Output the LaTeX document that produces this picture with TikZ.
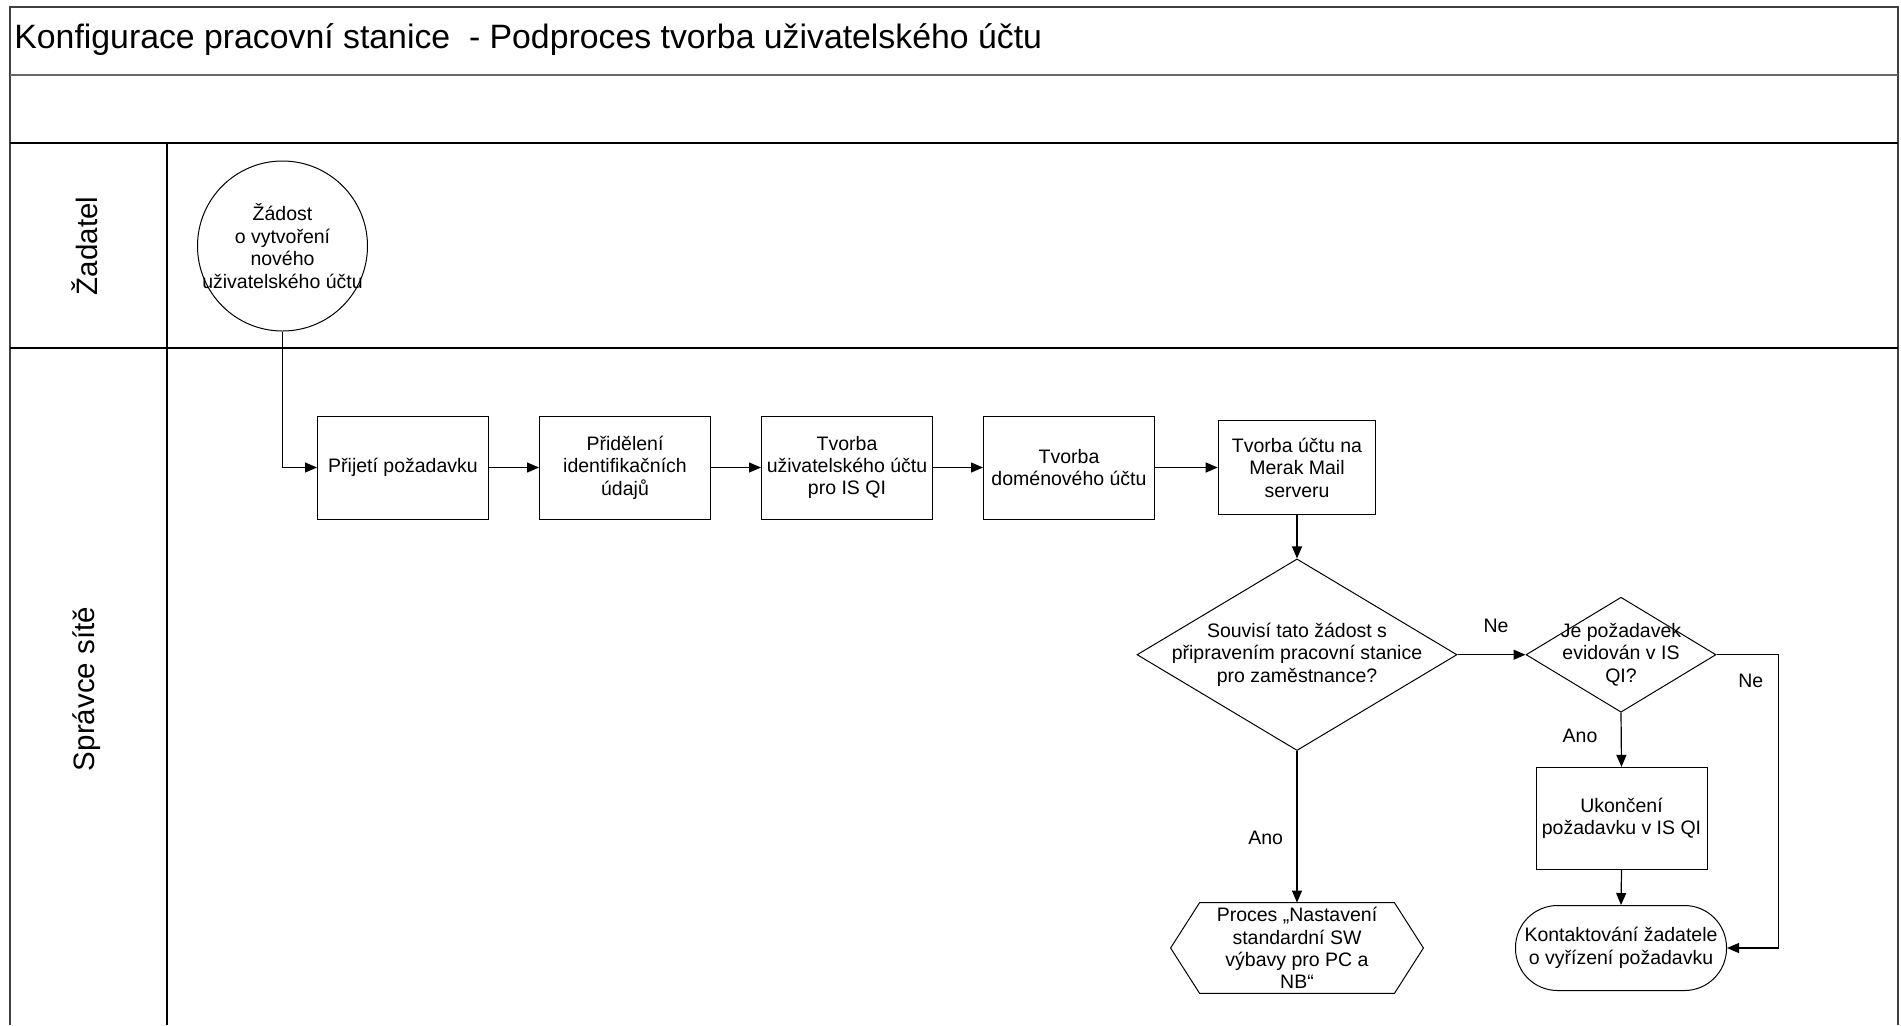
\documentclass[tikz,border=0pt]{standalone}
\usepackage{fontspec}
\setmainfont{Liberation Sans}
\usetikzlibrary{shapes.geometric,arrows.meta,calc}
\begin{document}
\begin{tikzpicture}[x=0.5pt,y=-0.5pt,
  frame/.style={draw=black!75,line width=1pt},
  lane/.style={draw=black,line width=0.75pt},
  txt/.style={font=\fontsize{9.75}{11.2}\selectfont,align=center,inner sep=0pt},
  boxnode/.style={txt,draw,line width=0.5pt,minimum width=85.5pt,minimum height=51.5pt},
  decnode/.style={diamond,draw,line width=0.5pt,inner sep=0pt},
  arr/.style={line width=0.6pt,-{Triangle[length=6pt,width=5pt]}},
  lanelabel/.style={font=\fontsize{14.75}{17}\selectfont,rotate=90,inner sep=0pt},
  flowlabel/.style={font=\fontsize{9.75}{11.2}\selectfont,inner sep=0pt}]
\useasboundingbox (0,0) rectangle (1901,1025);

% pool frame and lanes
\draw[frame] (10,1025) -- (10,7) -- (1898,7) -- (1898,1025);
\draw[draw=black!60,line width=0.9pt] (10,75) -- (1898,75);
\draw[lane] (10,143) -- (1898,143);
\draw[lane] (10,348) -- (1898,348);
\draw[lane] (167,143) -- (167,1025);

\node[font=\fontsize{16.9}{20}\selectfont,anchor=west,inner sep=0pt] (title) at (14,40)
  {Konfigurace pracovní stanice \ - Podproces tvorba uživatelského účtu};
\node[lanelabel] (l1) at (85,246) {Žadatel};
\node[lanelabel] (l2) at (87,689) {Správce sítě};

% activities
\node[circle,draw,line width=0.5pt,minimum size=85pt,inner sep=0pt] (start) at (282.5,246) {};
\node[txt] (startt) at (start) {Žádost\\o vytvoření\\nového\\uživatelského účtu};
\node[boxnode] (b1) at (403,467.5) {Přijetí požadavku};
\node[boxnode] (b2) at (625,467.5) {Přidělení\\identifikačních\\údajů};
\node[boxnode] (b3) at (847,467.5) {Tvorba\\uživatelského účtu\\pro IS QI};
\node[boxnode] (b4) at (1069,467.5) {Tvorba\\doménového účtu};
\node[boxnode,minimum width=78.8pt,minimum height=46.7pt] (b5) at (1297,467.5)
  {Tvorba účtu na\\Merak Mail\\serveru};

% decisions
\node[decnode,minimum width=160pt,minimum height=95.8pt] (d1) at (1297,654.7) {};
\node[txt] (d1t) at (d1) {Souvisí tato žádost s\\připravením pracovní stanice\\pro zaměstnance?};
\node[decnode,minimum width=95pt,minimum height=57.5pt] (d2) at (1621,654.7) {};
\node[txt] (d2t) at (d2) {Je požadavek\\evidován v IS\\QI?};

\node[boxnode,minimum height=51pt] (b6) at (1621.5,818.4) {Ukončení\\požadavku v IS QI};
\node[txt,draw,line width=0.5pt,minimum width=105.5pt,minimum height=42.5pt,
  rounded corners=21pt] (end) at (1621,948) {Kontaktování žadatele\\o vyřízení požadavku};

% off-page process (hexagon)
\node[txt,minimum width=126pt,minimum height=45pt] (proc) at (1297,948)
  {Proces „Nastavení\\standardní SW\\výbavy pro PC a\\NB“};
\draw[line width=0.5pt] ($(proc.north west)+(14.5pt,0)$) -- ($(proc.north east)+(-14.5pt,0)$)
  -- (proc.east) -- ($(proc.south east)+(-14.5pt,0)$) -- ($(proc.south west)+(14.5pt,0)$)
  -- (proc.west) -- cycle;

% connectors
\draw[arr] (start.south) |- (b1.west);
\draw[arr] (b1.east) -- (b2.west);
\draw[arr] (b2.east) -- (b3.west);
\draw[arr] (b3.east) -- (b4.west);
\draw[arr] (b4.east) -- (b5.west);
\draw[arr] (b5.south) -- (d1.north);
\draw[arr] (d1.east) -- (d2.west);
\draw[arr] (d2.south) -- (b6.north);
\draw[arr] (b6.south) -- (end.north);
\coordinate (bend) at (1778.6,654.7);
\draw[arr] (d2.east) -- (bend) |- (end.east);
\draw[arr] (d1.south) -- (proc.north);

% branch labels
\node[flowlabel] (ne1) at (1496,625.6) {Ne};
\node[flowlabel] (ano1) at (1580,736) {Ano};
\node[flowlabel] (ne2) at (1750.7,681) {Ne};
\node[flowlabel] (ano2) at (1265.7,837.8) {Ano};
\end{tikzpicture}
\end{document}
